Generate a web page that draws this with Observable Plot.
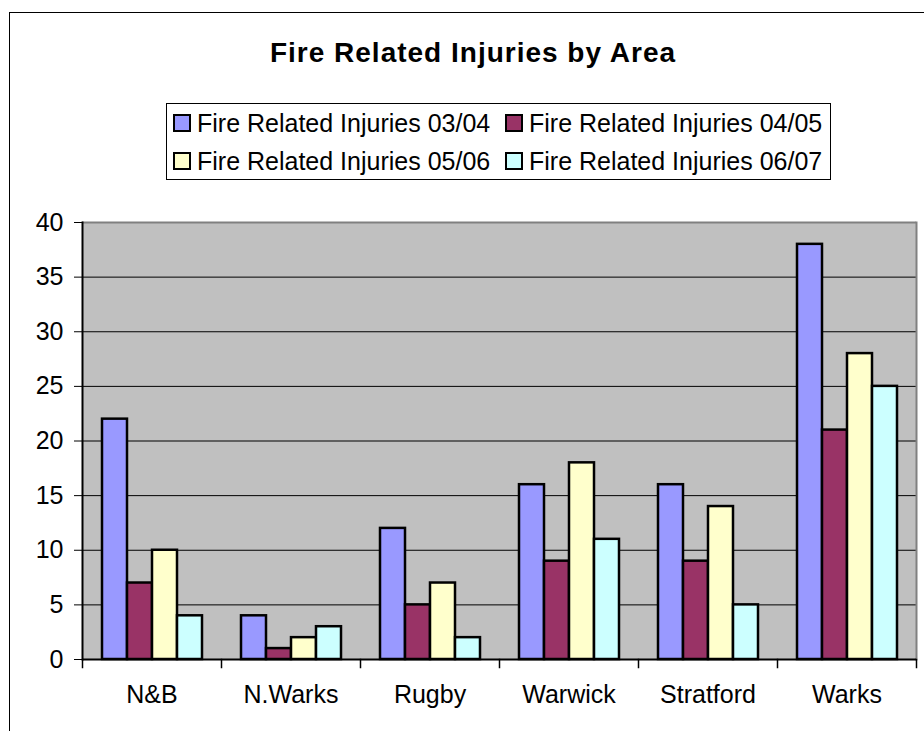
<!DOCTYPE html>
<html><head><meta charset="utf-8">
<script src="https://cdn.jsdelivr.net/npm/d3@7"></script>
<script src="https://cdn.jsdelivr.net/npm/@observablehq/plot@0.6"></script>
<style>
html,body{margin:0;padding:0;background:#fff;overflow:hidden;}
#wrap{position:relative;width:924px;height:731px;overflow:hidden;font-family:"Liberation Sans",Arial,sans-serif;color:#000;}
#frame{position:absolute;left:9px;top:12px;width:1200px;height:1200px;border:1px solid #000;}
#title{position:absolute;left:0;width:946px;top:38.6px;text-align:center;font-weight:bold;font-size:28px;line-height:28px;letter-spacing:1px;white-space:nowrap;}
#legend{position:absolute;left:166px;top:103px;width:663px;height:75px;border:1px solid #000;background:#fff;}
.item{position:absolute;font-size:25px;line-height:25px;white-space:nowrap;}
.sw{position:absolute;width:18px;height:18px;border:2px solid #000;box-sizing:border-box;}
#chart{position:absolute;left:0;top:190px;}
</style>
</head>
<body>
<div id="wrap">
  <div id="frame"></div>
  <div id="title">Fire Related Injuries by Area</div>
  <div id="legend"></div>
  <div id="chart"></div>
</div>
<script>
// ---- data ----
const areas = ["N&B", "N.Warks", "Rugby", "Warwick", "Stratford", "Warks"];
const periods = ["03/04", "04/05", "05/06", "06/07"];
const seriesNames = ["Fire Related Injuries 03/04", "Fire Related Injuries 04/05", "Fire Related Injuries 05/06", "Fire Related Injuries 06/07"];
const inj0304 = [22, 4, 12, 16, 16, 38];
const inj0405 = [7, 1, 5, 9, 9, 21];
const inj0506 = [10, 2, 7, 18, 14, 28];
const inj0607 = [4, 3, 2, 11, 5, 25];
const colors = ["#9999FF", "#993366", "#FFFFCC", "#CCFFFF"];
const yTicks = [0, 5, 10, 15, 20, 25, 30, 35, 40];
const gridLines = [5, 10, 15, 20, 25, 30, 35];

const seriesValues = [inj0304, inj0405, inj0506, inj0607];
const rows = areas.flatMap((a, i) => periods.map((p, j) => ({area: a, period: p, value: seriesValues[j][i]})));

// ---- legend (HTML) ----
const wrap = document.getElementById("wrap");
const legendCols = [{sw: 173, tx: 197}, {sw: 505, tx: 529}];
const legendRows = [{sw: 114, tx: 110.5}, {sw: 152.3, tx: 148.8}];
seriesNames.forEach((name, k) => {
  const c = legendCols[k % 2], r = legendRows[Math.floor(k / 2)];
  const sw = document.createElement("div");
  sw.className = "sw";
  sw.style.left = c.sw + "px"; sw.style.top = r.sw + "px";
  sw.style.background = colors[k];
  wrap.appendChild(sw);
  const t = document.createElement("div");
  t.className = "item";
  t.style.left = c.tx + "px"; t.style.top = r.tx + "px";
  t.textContent = name;
  wrap.appendChild(t);
});

// ---- chart ----
const W = 924, H = 541, mT = 32, mB = 72, mL = 81, mR = 8;
const plotH = H - mT - mB;

const chart = Plot.plot({
  width: W, height: H,
  marginTop: mT, marginBottom: mB, marginLeft: mL, marginRight: mR,
  style: {fontFamily: "Liberation Sans, Arial, sans-serif", fontSize: "25px", background: "transparent", color: "#000"},
  fx: {domain: areas, padding: 0, label: null},
  x: {domain: periods, paddingInner: 0, paddingOuter: 0.75, axis: null},
  y: {domain: [0, 40], label: null},
  color: {domain: periods, range: colors},
  marks: [
    Plot.frame({fill: "#C0C0C0", stroke: "#C0C0C0"}),
    Plot.ruleY(gridLines, {stroke: "#000", strokeWidth: 1}),
    Plot.ruleY([40], {stroke: "#808080", strokeWidth: 2}),
    Plot.frame({anchor: "right", facetAnchor: "right", stroke: "#808080", strokeWidth: 2}),
    Plot.barY(rows, {fx: "area", x: "period", y: "value", fill: "period", stroke: "#000", strokeWidth: 2.5}),
    Plot.ruleY([0], {stroke: "#000", strokeWidth: 2}),
    Plot.frame({anchor: "left", facetAnchor: "left", stroke: "#000", strokeWidth: 2}),
    Plot.frame({anchor: "left", insetTop: plotH, insetBottom: -8, stroke: "#000", strokeWidth: 1.5}),
    Plot.frame({anchor: "right", facetAnchor: "right", insetTop: plotH, insetBottom: -8, stroke: "#000", strokeWidth: 1.5}),
    Plot.axisY({ticks: yTicks, tickSize: 8, tickPadding: 11, tickFormat: d => String(d)}),
    Plot.axisFx({anchor: "bottom", tickSize: 0, tickPadding: 26})
  ]
});
document.getElementById("chart").appendChild(chart);
</script>
</body></html>
